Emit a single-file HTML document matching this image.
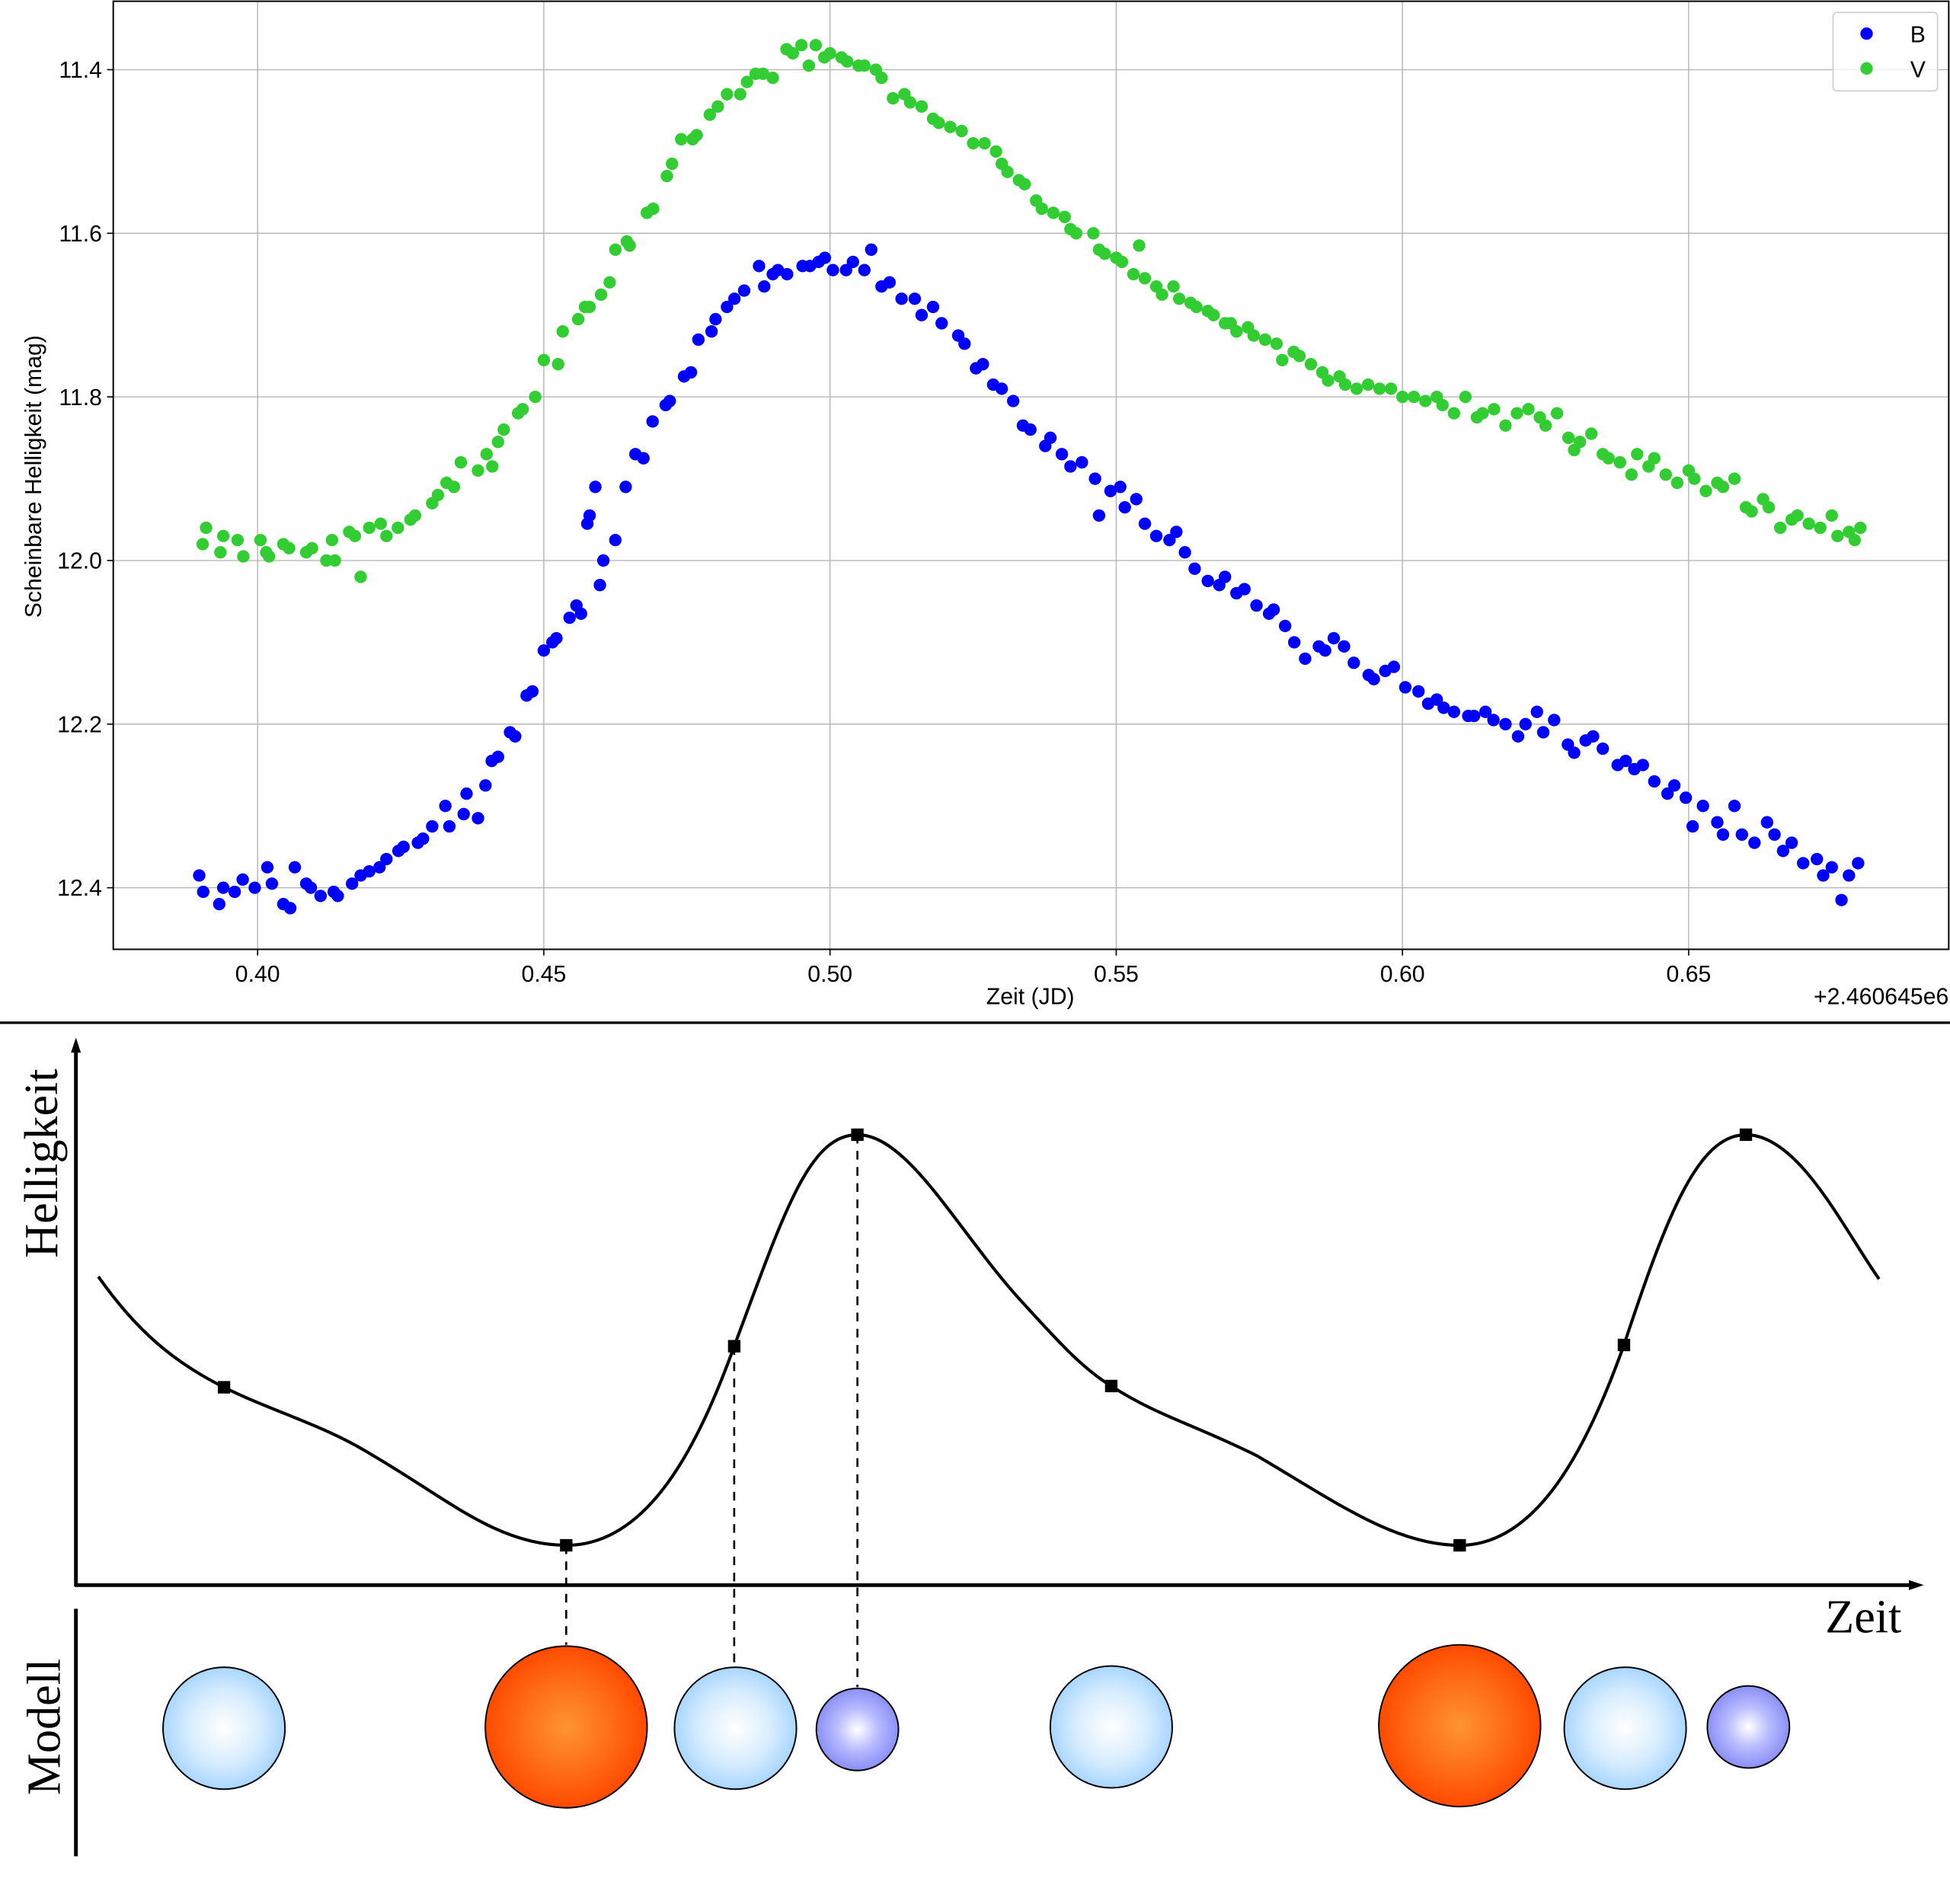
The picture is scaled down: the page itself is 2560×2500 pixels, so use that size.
<!DOCTYPE html>
<html><head><meta charset="utf-8">
<style>
html,body{margin:0;padding:0;background:#fff;}
svg{display:block;}
</style></head>
<body>
<svg id="root" width="2560" height="2500" viewBox="0 0 1567 1530.3" xmlns="http://www.w3.org/2000/svg">
<defs>
<radialGradient id="gBlue" cx="50%" cy="50%" r="50%"><stop offset="0" stop-color="#ffffff"/><stop offset="0.6" stop-color="#d6ecff"/><stop offset="1" stop-color="#a9d6ff"/></radialGradient>
<radialGradient id="gOrange" cx="50%" cy="50%" r="50%"><stop offset="0" stop-color="#ff9430"/><stop offset="0.6" stop-color="#ff6a14"/><stop offset="1" stop-color="#ff4a00"/></radialGradient>
<radialGradient id="gPurple" cx="50%" cy="50%" r="50%"><stop offset="0" stop-color="#ffffff"/><stop offset="0.5" stop-color="#b9bcff"/><stop offset="1" stop-color="#8a8ff5"/></radialGradient>
<clipPath id="plotClip"><rect x="91" y="1" width="1475" height="762"/></clipPath>
</defs>
<g id="topChart"></g>
<line x1="0" y1="822" x2="1567" y2="822" stroke="#000" stroke-width="2"/>
<g id="bottom">
  <line x1="61" y1="1275" x2="61" y2="842" stroke="#000" stroke-width="3"/>
  <polygon points="61,834 57,846 65,846" fill="#000"/>
  <line x1="60" y1="1274" x2="1538" y2="1274" stroke="#000" stroke-width="3"/>
  <polygon points="1546,1274 1534,1270 1534,1278" fill="#000"/>
  <text transform="translate(46,935) rotate(-90)" text-anchor="middle" font-family="Liberation Serif, serif" font-size="38">Helligkeit</text>
  <text x="1528" y="1312" text-anchor="end" font-family="Liberation Serif, serif" font-size="38">Zeit</text>
  <line x1="61" y1="1293" x2="61" y2="1492" stroke="#000" stroke-width="3"/>
  <text transform="translate(48,1388) rotate(-90)" text-anchor="middle" font-family="Liberation Serif, serif" font-size="38">Modell</text>
  <path fill="none" stroke="#000" stroke-width="2.5" d="M79,1026 C110,1070 140,1095 180,1115 C220,1135 260,1145 300,1170 C360,1205 400,1242 455,1242 C520,1242 560,1165 590,1082 C630,975 650,912 689,912 C730,912 770,990 820,1045 C850,1078 870,1100 893,1114 C930,1138 960,1145 1010,1170 C1070,1205 1120,1242 1173,1242 C1235,1242 1275,1165 1305,1081 C1340,975 1365,912 1403,912 C1445,912 1480,985 1510,1028"/>
  <g stroke="#000" stroke-width="1.6" stroke-dasharray="7,6">
    <line x1="455" y1="1242" x2="455" y2="1322"/>
    <line x1="590" y1="1082" x2="590" y2="1339"/>
    <line x1="689" y1="912" x2="689" y2="1356"/>
  </g>
  <g fill="#000">
    <rect x="175" y="1110" width="10" height="10"/>
    <rect x="450" y="1237" width="10" height="10"/>
    <rect x="585" y="1077" width="10" height="10"/>
    <rect x="684" y="907" width="10" height="10"/>
    <rect x="888" y="1109" width="10" height="10"/>
    <rect x="1168" y="1237" width="10" height="10"/>
    <rect x="1300" y="1076" width="10" height="10"/>
    <rect x="1398" y="907" width="10" height="10"/>
  </g>
  <g stroke="#000" stroke-width="1.2">
    <circle cx="180" cy="1389" r="49" fill="url(#gBlue)"/>
    <circle cx="455" cy="1388" r="65" fill="url(#gOrange)"/>
    <circle cx="591" cy="1389" r="49" fill="url(#gBlue)"/>
    <circle cx="689" cy="1390" r="33" fill="url(#gPurple)"/>
    <circle cx="893" cy="1388" r="49" fill="url(#gBlue)"/>
    <circle cx="1173" cy="1387" r="65" fill="url(#gOrange)"/>
    <circle cx="1306" cy="1389" r="49" fill="url(#gBlue)"/>
    <circle cx="1405" cy="1388" r="33" fill="url(#gPurple)"/>
  </g>
</g>
</svg>
<script>
const xTicks=[0.40,0.45,0.50,0.55,0.60,0.65];
const xTickLabels=["0.40","0.45","0.50","0.55","0.60","0.65"];
const yTicks=[11.4,11.6,11.8,12.0,12.2,12.4];
const yTickLabels=["11.4","11.6","11.8","12.0","12.2","12.4"];
const vTime=[0.3904,0.3910,0.3935,0.3940,0.3965,0.3975,0.4005,0.4015,0.4020,0.4045,0.4055,0.4085,0.4095,0.4120,0.4130,0.4135,0.4160,0.4170,0.4180,0.4195,0.4215,0.4225,0.4245,0.4267,0.4275,0.4305,0.4315,0.4330,0.4343,0.4355,0.4385,0.4400,0.4410,0.4420,0.4430,0.4455,0.4463,0.4485,0.4500,0.4525,0.4533,0.4560,0.4572,0.4580,0.4600,0.4615,0.4625,0.4645,0.4650,0.4680,0.4691,0.4715,0.4724,0.4740,0.4760,0.4767,0.4790,0.4804,0.4820,0.4843,0.4855,0.4870,0.4883,0.4900,0.4924,0.4935,0.4950,0.4963,0.4975,0.4990,0.5000,0.5020,0.5030,0.5050,0.5060,0.5080,0.5090,0.5110,0.5130,0.5140,0.5160,0.5180,0.5190,0.5210,0.5230,0.5250,0.5270,0.5290,0.5300,0.5310,0.5330,0.5340,0.5360,0.5370,0.5390,0.5410,0.5420,0.5430,0.5460,0.5470,0.5480,0.5500,0.5510,0.5530,0.5540,0.5550,0.5570,0.5580,0.5600,0.5610,0.5630,0.5640,0.5660,0.5670,0.5690,0.5700,0.5710,0.5730,0.5740,0.5760,0.5780,0.5790,0.5810,0.5820,0.5840,0.5860,0.5870,0.5890,0.5900,0.5920,0.5940,0.5960,0.5980,0.6000,0.6020,0.6040,0.6060,0.6070,0.6090,0.6110,0.6130,0.6140,0.6160,0.6180,0.6200,0.6220,0.6240,0.6250,0.6270,0.6290,0.6300,0.6310,0.6330,0.6350,0.6360,0.6380,0.6400,0.6410,0.6430,0.6440,0.6460,0.6480,0.6500,0.6510,0.6530,0.6550,0.6560,0.6580,0.6600,0.6610,0.6630,0.6640,0.6660,0.6680,0.6690,0.6710,0.6730,0.6750,0.6760,0.6780,0.6790,0.6800];
const vMag=[11.98,11.96,11.99,11.97,11.975,11.995,11.975,11.99,11.995,11.98,11.985,11.99,11.985,12.0,11.975,12.0,11.965,11.97,12.02,11.96,11.955,11.97,11.96,11.95,11.945,11.93,11.92,11.905,11.91,11.88,11.89,11.87,11.885,11.855,11.84,11.82,11.815,11.80,11.755,11.76,11.72,11.705,11.69,11.69,11.675,11.66,11.62,11.61,11.615,11.575,11.57,11.53,11.515,11.485,11.485,11.48,11.455,11.445,11.43,11.43,11.415,11.405,11.405,11.41,11.375,11.38,11.37,11.395,11.37,11.385,11.38,11.385,11.39,11.395,11.395,11.40,11.41,11.435,11.43,11.44,11.445,11.46,11.465,11.47,11.475,11.49,11.49,11.50,11.515,11.525,11.535,11.54,11.56,11.57,11.575,11.58,11.595,11.60,11.60,11.62,11.625,11.63,11.635,11.65,11.615,11.655,11.665,11.675,11.665,11.68,11.685,11.69,11.695,11.70,11.71,11.71,11.72,11.715,11.725,11.73,11.735,11.755,11.745,11.75,11.76,11.77,11.78,11.775,11.785,11.79,11.785,11.79,11.79,11.80,11.80,11.805,11.80,11.81,11.82,11.80,11.825,11.82,11.815,11.835,11.82,11.815,11.825,11.835,11.82,11.85,11.865,11.855,11.845,11.87,11.875,11.88,11.895,11.87,11.885,11.875,11.895,11.905,11.89,11.90,11.915,11.905,11.91,11.90,11.935,11.94,11.925,11.935,11.96,11.95,11.945,11.955,11.96,11.945,11.97,11.965,11.975,11.96];
const bTime=[0.3898,0.3905,0.3933,0.3940,0.3960,0.3974,0.3995,0.4017,0.4025,0.4045,0.4057,0.4065,0.4085,0.4093,0.4110,0.4133,0.4140,0.4165,0.4180,0.4195,0.4213,0.4225,0.4246,0.4255,0.4280,0.4289,0.4305,0.4328,0.4335,0.4360,0.4365,0.4385,0.4398,0.4409,0.4420,0.4441,0.4450,0.4470,0.4480,0.4500,0.4515,0.4522,0.4545,0.4557,0.4565,0.4576,0.4580,0.4590,0.4598,0.4604,0.4625,0.4643,0.4660,0.4674,0.4690,0.4713,0.4720,0.4745,0.4757,0.4770,0.4793,0.4800,0.4820,0.4833,0.4850,0.4876,0.4885,0.4900,0.4909,0.4925,0.4952,0.4965,0.4980,0.4991,0.5005,0.5028,0.5040,0.5060,0.5072,0.5090,0.5104,0.5125,0.5148,0.5160,0.5180,0.5195,0.5224,0.5235,0.5255,0.5267,0.5285,0.5300,0.5320,0.5337,0.5350,0.5376,0.5385,0.5405,0.5420,0.5440,0.5463,0.5470,0.5490,0.5507,0.5515,0.5535,0.5550,0.5570,0.5593,0.5605,0.5620,0.5637,0.5660,0.5680,0.5690,0.5710,0.5724,0.5745,0.5767,0.5775,0.5795,0.5811,0.5830,0.5854,0.5865,0.5880,0.5898,0.5915,0.5941,0.5950,0.5970,0.5985,0.6005,0.6028,0.6045,0.6060,0.6072,0.6090,0.6115,0.6125,0.6145,0.6159,0.6180,0.6202,0.6215,0.6235,0.6246,0.6265,0.6289,0.6300,0.6320,0.6333,0.6350,0.6376,0.6390,0.6405,0.6420,0.6440,0.6463,0.6475,0.6495,0.6507,0.6525,0.6550,0.6560,0.6580,0.6593,0.6615,0.6637,0.6650,0.6665,0.6680,0.6700,0.6724,0.6735,0.6750,0.6767,0.6780,0.6796];
const bMag=[12.385,12.405,12.42,12.40,12.405,12.39,12.40,12.375,12.395,12.42,12.425,12.375,12.395,12.40,12.41,12.405,12.41,12.395,12.385,12.38,12.375,12.365,12.355,12.35,12.345,12.34,12.325,12.30,12.325,12.31,12.285,12.315,12.275,12.245,12.24,12.21,12.215,12.165,12.16,12.11,12.10,12.095,12.07,12.055,12.065,11.955,11.945,11.91,12.03,12.0,11.975,11.91,11.87,11.875,11.83,11.81,11.805,11.775,11.77,11.73,11.72,11.705,11.69,11.68,11.67,11.64,11.665,11.65,11.645,11.65,11.64,11.64,11.635,11.63,11.645,11.645,11.635,11.645,11.62,11.665,11.66,11.68,11.68,11.70,11.69,11.71,11.725,11.735,11.765,11.76,11.785,11.79,11.805,11.835,11.84,11.86,11.85,11.87,11.885,11.88,11.90,11.945,11.915,11.91,11.935,11.925,11.955,11.97,11.975,11.965,11.99,12.01,12.025,12.03,12.02,12.04,12.035,12.055,12.065,12.06,12.08,12.10,12.12,12.105,12.11,12.095,12.105,12.125,12.14,12.145,12.135,12.13,12.155,12.16,12.175,12.17,12.18,12.185,12.19,12.19,12.185,12.195,12.20,12.215,12.2,12.185,12.21,12.195,12.225,12.235,12.22,12.215,12.23,12.25,12.245,12.255,12.25,12.27,12.285,12.275,12.29,12.325,12.30,12.32,12.335,12.30,12.335,12.345,12.32,12.335,12.355,12.345,12.37,12.365,12.385,12.375,12.415,12.385,12.37,12.395,12.365];

const NS="http://www.w3.org/2000/svg";
const topG=document.getElementById('topChart');
const X0=91,X1=1566,Y0=1,Y1=763;
function xs(t){return 207+(t-0.40)*4600;}
function ys(m){return 56+(m-11.4)*657.5;}
function mk(tag,attrs,parent){const e=document.createElementNS(NS,tag);for(const k in attrs)e.setAttribute(k,attrs[k]);(parent||topG).appendChild(e);return e;}
const F="Liberation Sans, sans-serif";
const FS=18.5;

const grid=mk('g',{stroke:'#b0b0b0','stroke-width':0.8});


xTicks.forEach((t,i)=>{
  const l=mk('line',{x1:xs(t),x2:xs(t),y1:Y0,y2:Y1},grid);
  
  
  const tk=mk('line',{x1:xs(t),x2:xs(t),y1:Y1,y2:Y1+5,stroke:'#000','stroke-width':1});
  
  
  const tx=mk('text',{x:xs(t),y:Y1+26,'text-anchor':'middle','font-family':F,'font-size':FS});
  tx.textContent=xTickLabels[i];
  
  
});
yTicks.forEach((m,i)=>{
  const l=mk('line',{x1:X0,x2:X1,y1:ys(m),y2:ys(m)},grid);
  
  
  const tk=mk('line',{x1:X0-5,x2:X0,y1:ys(m),y2:ys(m),stroke:'#000','stroke-width':1});
  
  
  const tx=mk('text',{x:X0-9,y:ys(m)+6.5,'text-anchor':'end','font-family':F,'font-size':FS});
  tx.textContent=yTickLabels[i];
  
  
});
const pts=mk('g',{'clip-path':'url(#plotClip)'});


function series(T,M,color,name){
  const g=mk('g',{fill:color},pts);
  
  
  const n=Math.min(T.length,M.length);
  for(let i=0;i<n;i++){
    const c=mk('circle',{cx:xs(T[i]),cy:ys(M[i]),r:5},g);
    
    
  }
}
series(bTime,bMag,'#0000ff','series-b');
series(vTime,vMag,'#32cd32','series-v');
const frame=mk('rect',{x:X0,y:Y0,width:X1-X0,height:Y1-Y0,fill:'none',stroke:'#000','stroke-width':1.2});


const xl=mk('text',{x:828,y:807,'text-anchor':'middle','font-family':F,'font-size':FS});
xl.textContent='Zeit (JD)';


const off=mk('text',{x:1566,y:807,'text-anchor':'end','font-family':F,'font-size':FS});
off.textContent='+2.460645e6';


const yl=mk('text',{transform:'translate(33,383) rotate(-90)','text-anchor':'middle','font-family':F,'font-size':FS});
yl.textContent='Scheinbare Helligkeit (mag)';


const lg=mk('g',{});


const lb=mk('rect',{x:1473,y:10,width:84,height:63,rx:3,fill:'#fff','fill-opacity':0.8,stroke:'#ccc','stroke-width':1},lg);


[['B','#0000ff',27],['V','#32cd32',55]].forEach(e=>{
  const g=mk('g',{},lg);
  
  
  mk('circle',{cx:1500,cy:e[2],r:5,fill:e[1]},g);
  const t=mk('text',{x:1535,y:e[2]+7,'font-family':F,'font-size':FS},g);
  t.textContent=e[0];
});
</script>
</body></html>
